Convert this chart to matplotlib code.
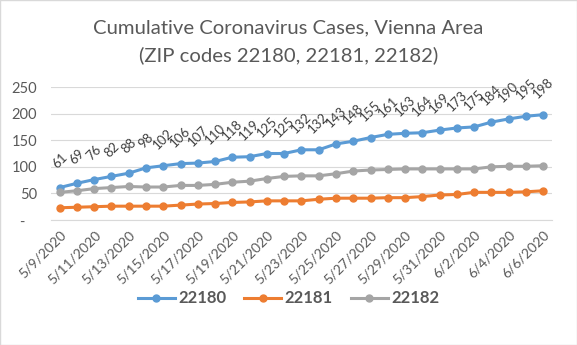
import matplotlib.pyplot as plt
import numpy as np

plt.rcParams['font.family'] = ['Lato', 'DejaVu Sans']

dates = ['5/9/2020', '5/10/2020', '5/11/2020', '5/12/2020', '5/13/2020', '5/14/2020',
         '5/15/2020', '5/16/2020', '5/17/2020', '5/18/2020', '5/19/2020', '5/20/2020',
         '5/21/2020', '5/22/2020', '5/23/2020', '5/24/2020', '5/25/2020', '5/26/2020',
         '5/27/2020', '5/28/2020', '5/29/2020', '5/30/2020', '5/31/2020', '6/1/2020',
         '6/2/2020', '6/3/2020', '6/4/2020', '6/5/2020', '6/6/2020']
zip_22180 = [61, 69, 76, 82, 88, 98, 102, 106, 107, 110, 118, 119, 125, 125, 132,
             132, 143, 148, 155, 161, 163, 164, 169, 173, 175, 184, 190, 195, 198]
zip_22181 = [23, 24, 25, 26, 26, 26, 26, 28, 30, 31, 33, 34, 36, 36, 36,
             39, 41, 41, 41, 42, 42, 44, 47, 48, 52, 52, 52, 53, 55]
zip_22182 = [52, 55, 59, 61, 63, 62, 62, 65, 65, 67, 71, 73, 78, 82, 83,
             83, 87, 92, 94, 95, 96, 96, 96, 96, 96, 100, 101, 101, 102]
series_names = ['22180', '22181', '22182']
ytick_vals = [0, 50, 100, 150, 200, 250]
ytick_labels = ['-   ', '50', '100', '150', '200', '250']

colors = ['#5B9BD5', '#ED7D31', '#A5A5A5']
text_col = '#595959'

fig = plt.figure(figsize=(5.77, 3.45), dpi=100)
ax = fig.add_axes([0.0884, 0.3623, 0.868, 0.3855])

x = np.arange(len(dates))
for vals, c, name in zip([zip_22180, zip_22181, zip_22182], colors, series_names):
    ax.plot(x, vals, color=c, lw=2.2, marker='o', ms=5, label=name, zorder=3)

for xi, v in zip(x, zip_22180):
    ax.annotate(str(v), (xi, v), xytext=(0, 27), textcoords='offset pixels',
                ha='center', va='center', rotation=45, fontsize=9.5, color='#404040')

ax.set_xlim(-0.5, len(dates) - 0.5)
ax.set_ylim(0, 250)
ax.set_yticks(ytick_vals)
ax.set_yticklabels(ytick_labels)
ax.set_xticks(x[::2])
ax.set_xticklabels(dates[::2], rotation=45, ha='right', rotation_mode='anchor')
ax.tick_params(axis='both', length=0, colors=text_col, labelsize=10)
ax.tick_params(axis='y', pad=10, labelsize=10.5)
ax.tick_params(axis='x', pad=6)
ax.grid(axis='y', color='#D9D9D9', lw=0.8)
ax.set_axisbelow(True)
for s in ['top', 'right', 'left']:
    ax.spines[s].set_visible(False)
ax.spines['bottom'].set_color('#D9D9D9')

fig.text(0.5, 0.919, 'Cumulative Coronavirus Cases, Vienna Area',
         ha='center', va='center', fontsize=14.6, color=text_col)
fig.text(0.5, 0.841, '(ZIP codes 22180, 22181, 22182)',
         ha='center', va='center', fontsize=14.6, color=text_col)

leg = fig.legend(loc='center', bbox_to_anchor=(0.5, 0.135), ncol=3, frameon=False,
                 handlelength=2.2, columnspacing=1.1, handletextpad=0.2,
                 prop={'size': 12, 'weight': 'bold'})
for t in leg.get_texts():
    t.set_color(text_col)

fig.patches.append(plt.Rectangle((0, 0), 1, 1, transform=fig.transFigure,
                                 fill=False, ec='#D9D9D9', lw=1))

fig.savefig('out.png', dpi=100)
